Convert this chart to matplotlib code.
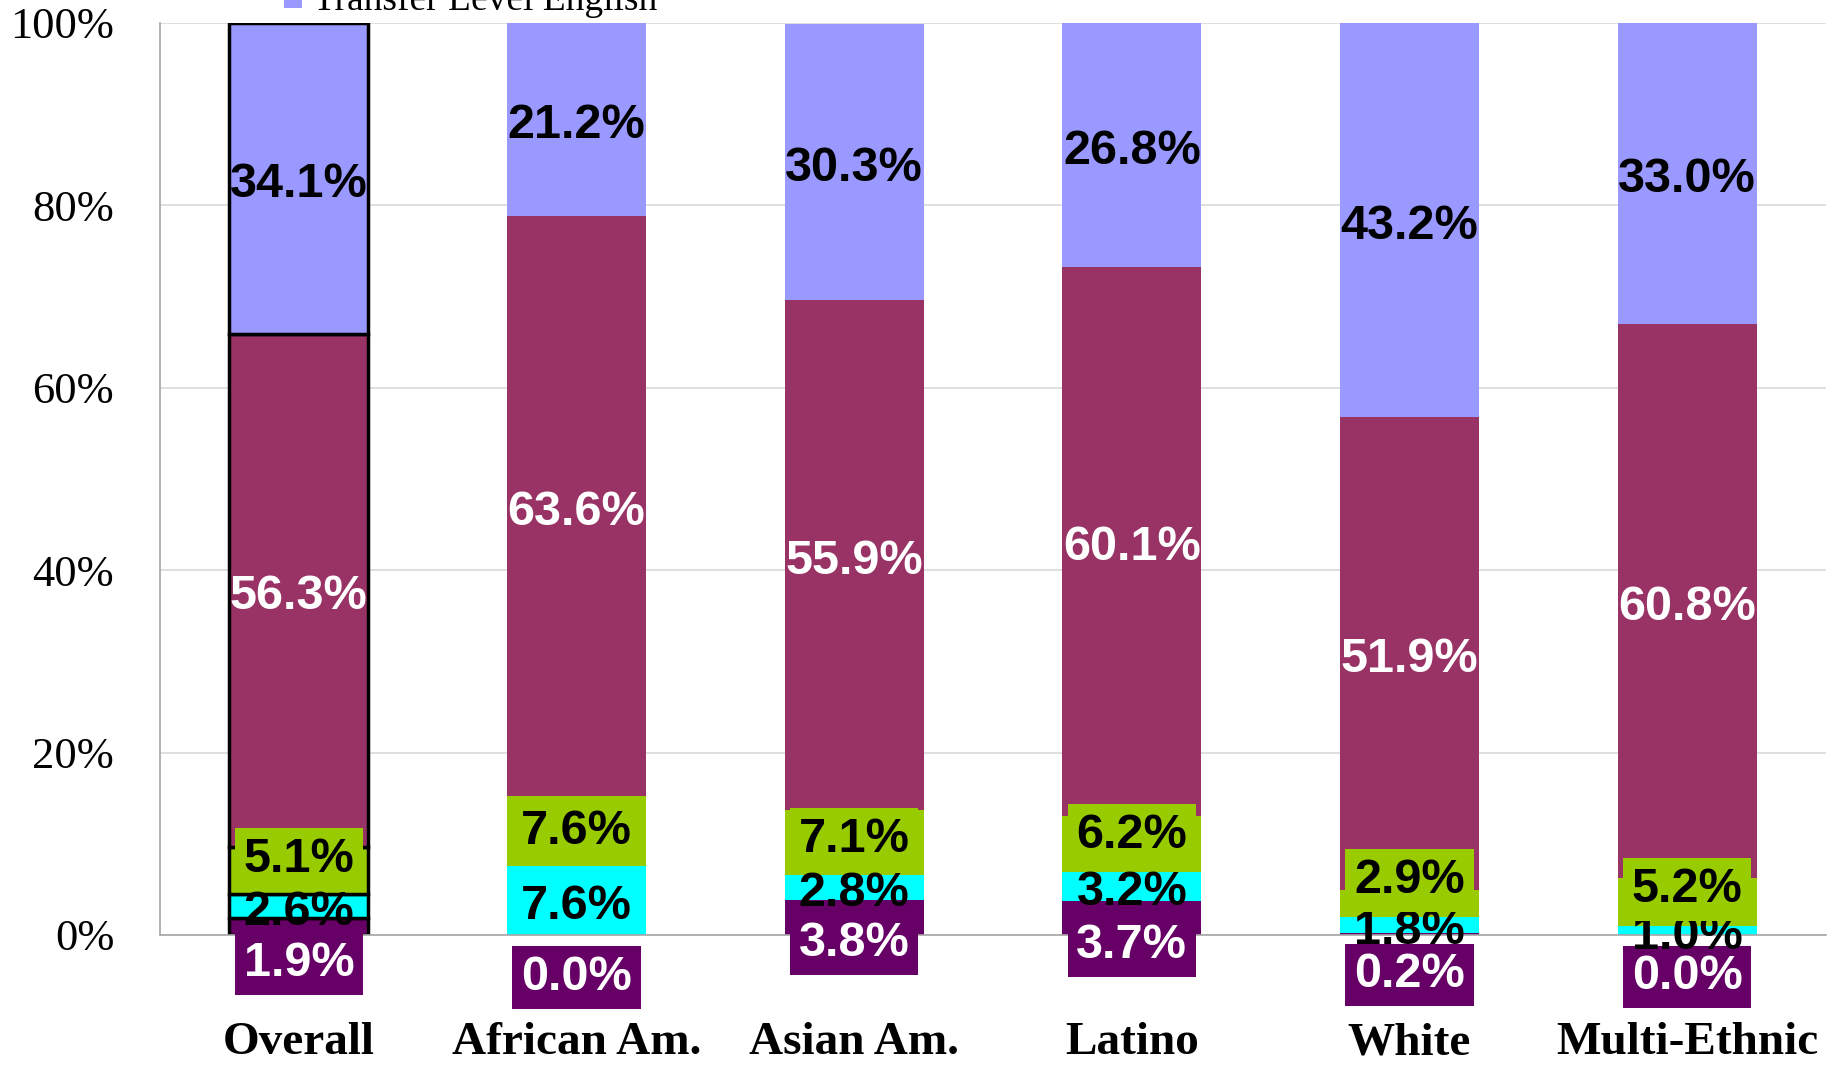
import matplotlib
matplotlib.use("Agg")
import matplotlib.pyplot as plt
from matplotlib.patches import Rectangle
import numpy as np

groups = ["Overall", "African Am.", "Asian Am.", "Latino", "White", "Multi-Ethnic"]
series = ["Level 4", "Level 3", "Level 2", "Level 1", "Transfer Level English"]
level4 = [1.9, 0.0, 3.8, 3.7, 0.2, 0.0]
level3 = [2.6, 7.6, 2.8, 3.2, 1.8, 1.0]
level2 = [5.1, 7.6, 7.1, 6.2, 2.9, 5.2]
level1 = [56.3, 63.6, 55.9, 60.1, 51.9, 60.8]
transfer = [34.1, 21.2, 30.3, 26.8, 43.2, 33.0]
yticks = ["0%", "20%", "40%", "60%", "80%", "100%"]

colors = ["#660066", "#00FFFF", "#99CC00", "#993366", "#9999FF"]
txt_colors = ["white", "black", "black", "white", "black"]
# hand-moved label positions (in % units) for the two smallest segments
nudge_l4 = [-3.4, -4.0, -2.2, -2.3, -3.8, -3.9]
nudge_l2 = [1.9, 0.6, 1.0, 1.6, 3.2, 2.1]

fig = plt.figure(figsize=(18.35, 10.67), dpi=100)
ax = fig.add_axes([160 / 1835, 132 / 1067, 1666 / 1835, 912 / 1067])

x = np.arange(len(groups))
data = [level4, level3, level2, level1, transfer]
bottom = np.zeros(len(groups))
for i, vals in enumerate(data):
    vals = np.array(vals)
    bars = ax.bar(x, vals, 0.5, bottom=bottom, color=colors[i], zorder=2)
    # overall bar gets black outline
    bars[0].set_edgecolor("black")
    bars[0].set_linewidth(2.5)
    for j, v in enumerate(vals):
        yc = bottom[j] + v / 2
        box = None
        if i == 0:
            yc = yc + nudge_l4[j]
            box = dict(boxstyle="square,pad=0.18", fc=colors[0], ec="none")
        elif i == 2:
            yc = yc + nudge_l2[j]
            box = dict(boxstyle="square,pad=0.18", fc=colors[2], ec="none")
        ax.annotate("%.1f%%" % v, (x[j], yc), xytext=(0, -4.5),
                    textcoords="offset points", ha="center", va="center",
                    color=txt_colors[i], fontsize=35, fontweight="bold",
                    family="Liberation Sans", bbox=box, zorder=5,
                    annotation_clip=False)
    bottom = bottom + vals

ax.set_xlim(-0.5, len(groups) - 0.5)
ax.set_ylim(0, 100)
ax.set_yticks([0, 20, 40, 60, 80, 100])
ax.set_yticklabels(yticks, family="Liberation Serif", fontsize=32)
ax.set_xticks(x)
ax.set_xticklabels(groups, family="Liberation Serif", fontsize=34, fontweight="bold")
ax.tick_params(axis="y", length=0, pad=33)
ax.tick_params(axis="x", length=0, pad=63)
ax.grid(axis="y", color="#D9D9D9", linewidth=1.2, zorder=0)
ax.set_axisbelow(True)
for s in ["top", "right"]:
    ax.spines[s].set_visible(False)
ax.spines["left"].set_color("#A6A6A6")
ax.spines["bottom"].set_color("#A6A6A6")
ax.spines["left"].set_linewidth(1.2)
ax.spines["bottom"].set_linewidth(1.2)

# legend, cut off at the top edge like the original
fig.patches.append(Rectangle((284 / 1835, 1 - 8 / 1067), 18 / 1835, 12 / 1067,
                             transform=fig.transFigure, fc=colors[4], ec="none"))
fig.text(313 / 1835, 1 - 10 / 1067, series[4], family="Liberation Serif",
         fontsize=27, va="baseline", ha="left")

fig.savefig("out.png", dpi=100)
